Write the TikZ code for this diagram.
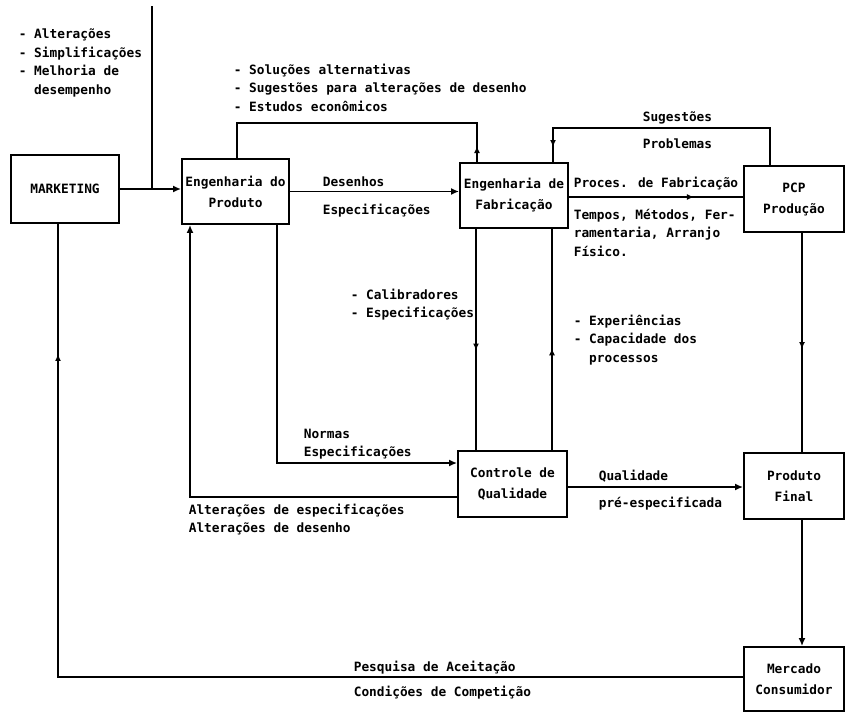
\documentclass[tikz,border=0pt]{standalone}
\usepackage{fontspec}
\setmainfont{DejaVu Sans Mono}
\usetikzlibrary{arrows.meta,decorations.markings}

\begin{document}
\begin{tikzpicture}[x=1pt, y=-1pt, line width=1.6pt, >={Latex[length=8pt,width=7pt]},
  box/.style={draw, line width=1.9pt, align=center, inner sep=1pt, font=\bfseries\fontsize{12.8}{21}\selectfont},
  lbl/.style={align=left, inner sep=0pt, anchor=north west, font=\bfseries\fontsize{12.8}{18.5}\selectfont},
  midarrow/.style={postaction={decorate}, decoration={markings, mark=at position #1 with {\arrow{Latex[length=7pt,width=6pt]}}}}]
\useasboundingbox (0,0) rectangle (846,713);

% blocos
\node[box, minimum width=108pt, minimum height=68pt] (mkt) at (65,189) {MARKETING};
\node[box, minimum width=107pt, minimum height=65pt] (engprod) at (235.5,191.5) {Engenharia do\\Produto};
\node[box, minimum width=108pt, minimum height=65pt] (engfab) at (514,195.5) {Engenharia de\\Fabricação};
\node[box, minimum width=100pt, minimum height=66pt] (pcp) at (794,199) {PCP\\Produção};
\node[box, minimum width=109pt, minimum height=66pt] (cq) at (512.5,484) {Controle de\\Qualidade};
\node[box, minimum width=100pt, minimum height=66pt] (final) at (794,486) {Produto\\Final};
\node[box, minimum width=100pt, minimum height=64pt] (merc) at (794,679) {Mercado\\Consumidor};

% ligacoes
\coordinate (entrada) at (152,6);
\draw[->] (mkt.east) -- (mkt.east -| engprod.west);
\draw (entrada) -- (entrada |- mkt.east);
\draw[midarrow=16pt] (engfab.north -| 477,0) -- (477,123) -| (engprod.north -| 237,0);
\draw[->] (engprod.east) -- (engprod.east -| engfab.west);
\draw[midarrow=-15pt] (pcp.north -| 770,0) -- (770,128) -| (engfab.north -| 553,0);
\draw[midarrow=125pt] (engfab.east |- 0,197) -- (pcp.west |- 0,197);
\draw[midarrow=0.55] (engfab.south -| 476,0) -- (cq.north -| 476,0);
\draw[midarrow=0.46] (cq.north -| 552,0) -- (engfab.south -| 552,0);
\draw[midarrow=0.53] (pcp.south -| 802,0) -- (final.north -| 802,0);
\draw[->] (engprod.south -| 277,0) |- (cq.west |- 0,463);
\draw[->] (cq.west |- 0,497) -| (engprod.south -| 190,0);
\draw[->] (cq.east |- 0,487) -- (final.west |- 0,487);
\draw[->] (final.south -| 802,0) -- (merc.north -| 802,0);
\draw[midarrow=-130pt] (merc.west |- 0,677) -| (mkt.south -| 58,0);

% textos
\node[lbl] (tmkt) at (18,28) {- Alterações\\- Simplificações\\- Melhoria de\\\phantom{- }desempenho};
\node[lbl] (tsol) at (233,63) {- Soluções alternativas\\- Sugestões para alterações de desenho\\- Estudos econômicos};
\node[lbl] (tdes) at (322,176) {Desenhos};
\node[lbl] (tesp) at (322,203) {Especificações};
\node[lbl] (tsug) at (642,111) {Sugestões};
\node[lbl] (tprob) at (642,138) {Problemas};
\node[lbl] (tproc) at (573,176) {Proces. de Fabricação};
\node[lbl] (ttemp) at (573,208) {Tempos, Métodos, Fer-\\ramentaria, Arranjo\\Físico.};
\node[lbl] (tcal) at (350,288) {- Calibradores\\- Especificações};
\node[lbl] (texp) at (573,314) {- Experiências\\- Capacidade dos\\\phantom{- }processos};
\node[lbl] (tnorm) at (303,428) {Normas\\Especificações};
\node[lbl] (tqual) at (598,469) {Qualidade};
\node[lbl] (tpre) at (598,496) {pré-especificada};
\node[lbl] (talt) at (188,503) {Alterações de especificações\\Alterações de desenho};
\node[lbl] (tpesq) at (353,660) {Pesquisa de Aceitação};
\node[lbl] (tcond) at (353,685) {Condições de Competição};
\end{tikzpicture}
\end{document}
